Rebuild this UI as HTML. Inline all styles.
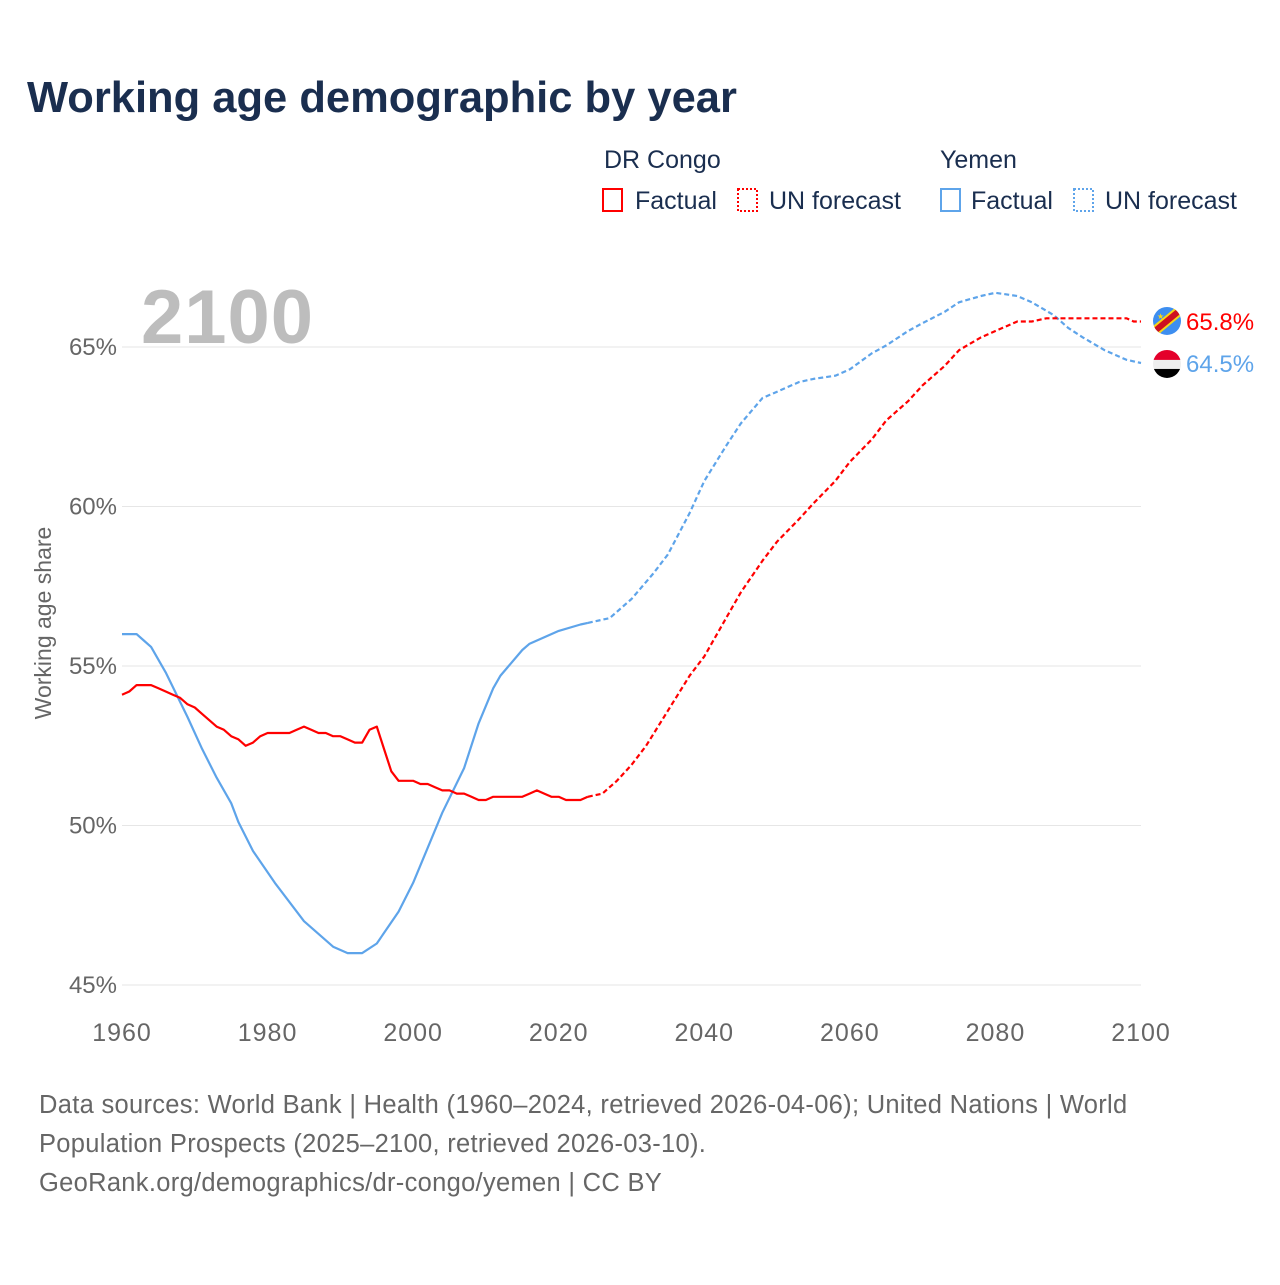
<!DOCTYPE html>
<html><head><meta charset="utf-8">
<style>
html,body{margin:0;padding:0;background:#fff;}
body{width:1280px;height:1280px;position:relative;overflow:hidden;font-family:"Liberation Sans",sans-serif;}
svg text{font-family:"Liberation Sans",sans-serif;}
</style></head>
<body>
<svg id="chart" width="1280" height="1280" viewBox="0 0 1280 1280" xmlns="http://www.w3.org/2000/svg">
<text x="27" y="112" font-size="43.5" font-weight="bold" fill="#1a2e4f">Working age demographic by year</text>
<g font-size="25" fill="#1a2e4f">
<text x="604" y="168">DR Congo</text>
<text x="940" y="168">Yemen</text>
<g><rect x="603" y="189" width="19" height="22" fill="none" stroke="#f00" stroke-width="2"/><text x="635" y="209">Factual</text></g>
<g><rect x="738" y="189" width="19" height="22" fill="none" stroke="#f00" stroke-width="2" stroke-dasharray="2,2"/><text x="769" y="209">UN forecast</text></g>
<g><rect x="941" y="189" width="19" height="22" fill="none" stroke="#5ea4ea" stroke-width="2"/><text x="971" y="209">Factual</text></g>
<g><rect x="1074" y="189" width="19" height="22" fill="none" stroke="#5ea4ea" stroke-width="2" stroke-dasharray="2,2"/><text x="1105" y="209">UN forecast</text></g>
</g>
<text x="141" y="343" font-size="76" font-weight="bold" fill="#bdbdbd" letter-spacing="1">2100</text>
<text transform="translate(51,623) rotate(-90)" text-anchor="middle" font-size="23" fill="#666">Working age share</text>
<g id="grid"></g>
<g id="series"></g>
<g id="endlabels"></g>
<g font-size="25.5" fill="#666" letter-spacing="0.3">
<text x="39" y="1113">Data sources: World Bank | Health (1960–2024, retrieved 2026-04-06); United Nations | World</text>
<text x="39" y="1152">Population Prospects (2025–2100, retrieved 2026-03-10).</text>
<text x="39" y="1191">GeoRank.org/demographics/dr-congo/yemen | CC BY</text>
</g>
</svg>
<script>
const yTicks=[45,50,55,60,65];
const xTicks=[1960,1980,2000,2020,2040,2060,2080,2100];
const congoFactYears=[1960,1961,1962,1963,1964,1965,1966,1967,1968,1969,1970,1971,1972,1973,1974,1975,1976,1977,1978,1979,1980,1981,1982,1983,1984,1985,1986,1987,1988,1989,1990,1991,1992,1993,1994,1995,1996,1997,1998,1999,2000,2001,2002,2003,2004,2005,2006,2007,2008,2009,2010,2011,2012,2013,2014,2015,2016,2017,2018,2019,2020,2021,2022,2023,2024];
const congoFactValues=[54.1,54.2,54.4,54.4,54.4,54.3,54.2,54.1,54.0,53.8,53.7,53.5,53.3,53.1,53.0,52.8,52.7,52.5,52.6,52.8,52.9,52.9,52.9,52.9,53.0,53.1,53.0,52.9,52.9,52.8,52.8,52.7,52.6,52.6,53.0,53.1,52.4,51.7,51.4,51.4,51.4,51.3,51.3,51.2,51.1,51.1,51.0,51.0,50.9,50.8,50.8,50.9,50.9,50.9,50.9,50.9,51.0,51.1,51.0,50.9,50.9,50.8,50.8,50.8,50.9];
const congoFcYears=[2024,2026,2028,2030,2032,2035,2038,2040,2043,2045,2048,2050,2053,2055,2058,2060,2063,2065,2068,2070,2073,2075,2078,2080,2083,2085,2087,2090,2095,2098,2099,2100];
const congoFcValues=[50.9,51.0,51.4,51.9,52.5,53.6,54.7,55.3,56.5,57.3,58.3,58.9,59.6,60.1,60.8,61.4,62.1,62.7,63.3,63.8,64.4,64.9,65.3,65.5,65.8,65.8,65.9,65.9,65.9,65.9,65.8,65.8];
const yemenFactYears=[1960,1962,1963,1964,1966,1969,1971,1973,1975,1976,1978,1981,1985,1989,1991,1993,1995,1998,2000,2002,2004,2007,2009,2011,2012,2015,2016,2020,2023,2024];
const yemenFactValues=[56.0,56.0,55.8,55.6,54.8,53.4,52.4,51.5,50.7,50.1,49.2,48.2,47.0,46.2,46.0,46.0,46.3,47.3,48.2,49.3,50.4,51.8,53.2,54.3,54.7,55.5,55.7,56.1,56.3,56.35];
const yemenFcYears=[2024,2027,2030,2033,2035,2038,2040,2043,2045,2048,2050,2053,2055,2058,2060,2063,2065,2068,2070,2073,2075,2078,2080,2083,2085,2088,2090,2092,2095,2098,2100];
const yemenFcValues=[56.35,56.5,57.1,57.9,58.5,59.8,60.8,61.9,62.6,63.4,63.6,63.9,64.0,64.1,64.3,64.8,65.05,65.5,65.75,66.1,66.4,66.6,66.7,66.6,66.4,66.0,65.6,65.3,64.9,64.6,64.5];
const endLabels=["65.8%","64.5%"];

const X0=122,X1=1141,Y65=347,Y45=985;
const xs=y=>X0+(y-1960)*(X1-X0)/140;
const ys=v=>Y45-(v-45)*(Y45-Y65)/20;
const NS="http://www.w3.org/2000/svg";
function mk(tag,attrs,parent){const e=document.createElementNS(NS,tag);for(const k in attrs)e.setAttribute(k,attrs[k]);parent.appendChild(e);return e;}
const grid=document.getElementById('grid');
yTicks.forEach(t=>{
  const l=mk('line',{x1:X0,x2:X1,y1:ys(t),y2:ys(t),stroke:'#e6e6e6','stroke-width':1},grid);
  
  
  const tx=mk('text',{x:117,y:ys(t)+8,'text-anchor':'end','font-size':24,fill:'#666'},grid);
  tx.textContent=t+'%';
  
  
});
xTicks.forEach(t=>{
  const tx=mk('text',{x:xs(t),y:1041,'text-anchor':'middle','font-size':25,fill:'#666','letter-spacing':1},grid);
  tx.textContent=t;
  
  
});
const ser=document.getElementById('series');
function line(years,vals,color,dash,name){
  const d=years.map((y,i)=>(i?'L':'M')+xs(y).toFixed(1)+','+ys(vals[i]).toFixed(1)).join(' ');
  const p=mk('path',{d:d,fill:'none',stroke:color,'stroke-width':2.2,'stroke-linejoin':'round'},ser);
  if(dash)p.setAttribute('stroke-dasharray','5,3');
  
  
}
line(yemenFactYears,yemenFactValues,'#5ea4ea',false,'yemen-factual-line');
line(yemenFcYears,yemenFcValues,'#5ea4ea',true,'yemen-forecast-line');
line(congoFactYears,congoFactValues,'#ff0000',false,'congo-factual-line');
line(congoFcYears,congoFcValues,'#ff0000',true,'congo-forecast-line');
const el=document.getElementById('endlabels');
const cy1=ys(congoFcValues[congoFcValues.length-1])-0.5, cy2=ys(yemenFcValues[yemenFcValues.length-1])+1;
const g1=mk('g',{},el);


const cp1=mk('clipPath',{id:'c1'},g1);mk('circle',{cx:1167,cy:cy1,r:14},cp1);
const gc=mk('g',{'clip-path':'url(#c1)'},g1);
mk('rect',{x:1153,y:cy1-14,width:28,height:28,fill:'#3d8ef0'},gc);
mk('line',{x1:1150,y1:cy1+14,x2:1184,y2:cy1-14,stroke:'#f7d618','stroke-width':10},gc);
mk('line',{x1:1150,y1:cy1+14,x2:1184,y2:cy1-14,stroke:'#ce1021','stroke-width':6},gc);
mk('text',{x:1157,y:cy1-2,'font-size':8,fill:'#f7d618'},gc).textContent='★';
const g2=mk('g',{},el);


const cp2=mk('clipPath',{id:'c2'},g2);mk('circle',{cx:1167,cy:cy2,r:14},cp2);
const gy=mk('g',{'clip-path':'url(#c2)'},g2);
mk('rect',{x:1153,y:cy2-14,width:28,height:10,fill:'#e4002b'},gy);
mk('rect',{x:1153,y:cy2-4,width:28,height:9,fill:'#eeeeee'},gy);
mk('rect',{x:1153,y:cy2+5,width:28,height:10,fill:'#000'},gy);
const t1=mk('text',{x:1186,y:cy1+9,'font-size':24,fill:'#ff0000'},el);t1.textContent=endLabels[0];


const t2=mk('text',{x:1186,y:cy2+8,'font-size':24,fill:'#5ea4ea'},el);t2.textContent=endLabels[1];


</script>
</body></html>
